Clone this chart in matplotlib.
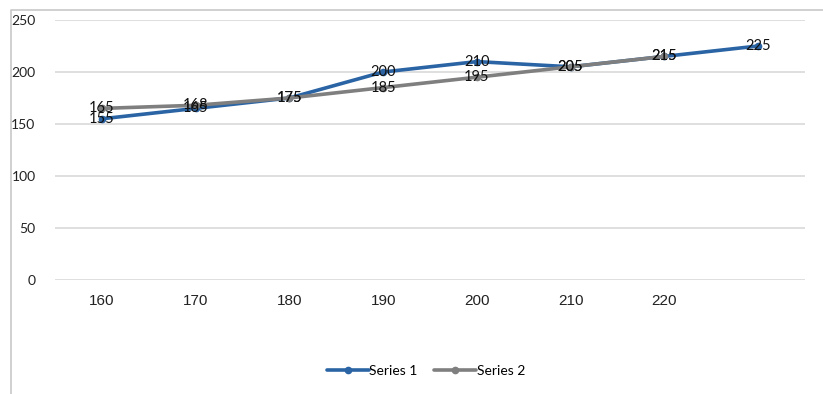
import matplotlib
matplotlib.use("Agg")
import matplotlib.pyplot as plt
from matplotlib.lines import Line2D

# chart data
categories = ["160", "170", "180", "190", "200", "210", "220", ""]
series1 = [155, 165, 175, 200, 210, 205, 215, 225]
series2 = [165, 168, 175, 185, 195, 205, 215]
series_names = ["Series 1", "Series 2"]
y_ticks = [0, 50, 100, 150, 200, 250]

blue = "#2A64A4"
gray = "#7F7F7F"
grid_col = "#D9D9D9"
label_font = ["Lato", "DejaVu Sans"]
narrow_font = ["Liberation Sans Narrow", "Liberation Sans", "DejaVu Sans"]

W, H = 823, 394
fig = plt.figure(figsize=(W / 100, H / 100), dpi=100)
ax = fig.add_axes([55 / W, 1 - 280 / H, 750 / W, 260 / H])

x1 = list(range(len(series1)))
x2 = list(range(len(series2)))
ax.plot(x1, series1, color=blue, lw=2.6, marker="o", ms=4.5,
        solid_capstyle="round", label=series_names[0], zorder=3)
ax.plot(x2, series2, color=gray, lw=2.6, marker="o", ms=4.5,
        solid_capstyle="round", label=series_names[1], zorder=3)

# value labels centred on each point
for xs, ys in ((x2, series2), (x1, series1)):
    for x, y in zip(xs, ys):
        ax.text(x, y, str(y), ha="center", va="center", fontsize=10.5,
                family=label_font, color="#111111", zorder=4)

ax.set_xlim(-0.5, len(categories) - 0.5)
ax.set_ylim(0, 250)
ax.set_yticks(y_ticks)
ax.set_xticks(range(len(categories)))
ax.set_xticklabels(categories, family=narrow_font, fontsize=11)
for t in ax.get_yticklabels():
    t.set_family(label_font)
    t.set_fontsize(10)
ax.tick_params(axis="y", length=0, pad=14, colors="#222222")
ax.tick_params(axis="x", length=0, pad=10, colors="#222222")
ax.grid(axis="y", color=grid_col, lw=1.2)
ax.set_axisbelow(True)
for s in ax.spines.values():
    s.set_visible(False)

leg = fig.legend(loc="center", bbox_to_anchor=(426 / W, 1 - 371 / H), ncol=2,
                 frameon=False, handlelength=3.0, columnspacing=1.2,
                 handletextpad=0.05, prop={"family": label_font, "size": 10})

# chart area border (top and left edges)
fig.add_artist(Line2D([11 / W, 11 / W, 1], [0, 1 - 10 / H, 1 - 10 / H],
                      transform=fig.transFigure, color="#C8C8C8", lw=1.2))

fig.savefig("out.png", dpi=100)
